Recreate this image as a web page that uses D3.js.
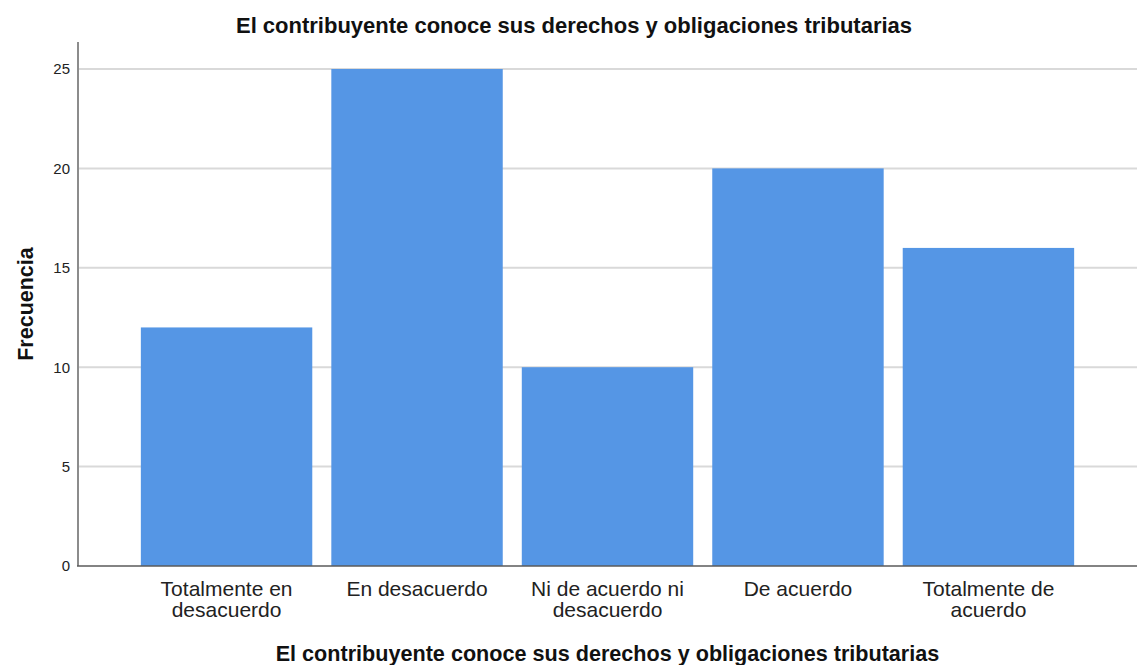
<!DOCTYPE html>
<html>
<head>
<meta charset="utf-8">
<script src="https://cdn.jsdelivr.net/npm/d3@7"></script>
<style>
  html, body { margin: 0; padding: 0; background: #fff; }
  svg { display: block; font-family: "Liberation Sans", Arial, sans-serif; }
</style>
</head>
<body>
<svg id="chart" width="1137" height="665"></svg>
<script>
const categories = ["Totalmente en desacuerdo", "En desacuerdo", "Ni de acuerdo ni desacuerdo", "De acuerdo", "Totalmente de acuerdo"];
const categoryLines = [["Totalmente en", "desacuerdo"], ["En desacuerdo"], ["Ni de acuerdo ni", "desacuerdo"], ["De acuerdo"], ["Totalmente de", "acuerdo"]];
const frequencies = [12, 25, 10, 20, 16];
const yTicks = [0, 5, 10, 15, 20, 25];
const title = "El contribuyente conoce sus derechos y obligaciones tributarias";
const xTitle = "El contribuyente conoce sus derechos y obligaciones tributarias";
const yTitle = "Frecuencia";

const W = 1137, H = 665;
const plot = { left: 78, right: 1137, top: 42, bottom: 566 };

const svg = d3.select("#chart");

const x = d3.scaleBand().domain(categories).range([plot.left, plot.right])
  .paddingInner(0.1).paddingOuter(0.33);
const y = d3.scaleLinear().domain([0, 25]).range([plot.bottom, 69]);

// gridlines
svg.append("g")
  .selectAll("line").data(yTicks.filter(d => d > 0)).join("line")
  .attr("x1", plot.left).attr("x2", plot.right)
  .attr("y1", d => y(d)).attr("y2", d => y(d))
  .attr("stroke", "#d9d9d9").attr("stroke-width", 2);

// bars
svg.append("g")
  .selectAll("rect").data(frequencies).join("rect")
  .attr("x", (d, i) => x(categories[i]))
  .attr("width", x.bandwidth())
  .attr("y", d => y(d))
  .attr("height", d => y(0) - y(d))
  .attr("fill", "#5596e5");

// y axis
const yAxis = svg.append("g")
  .attr("transform", `translate(${plot.left},0)`)
  .call(d3.axisLeft(y).tickValues(yTicks).tickSize(0).tickPadding(8));
yAxis.select(".domain").remove();
yAxis.selectAll("text").attr("font-size", 15).attr("fill", "#222")
  .attr("font-family", "'Liberation Sans', Arial, sans-serif");
svg.append("line")
  .attr("x1", plot.left).attr("x2", plot.left)
  .attr("y1", plot.top).attr("y2", plot.bottom)
  .attr("stroke", "#8c8c8c").attr("stroke-width", 2);

// baseline
svg.append("line")
  .attr("x1", plot.left - 1).attr("x2", plot.right)
  .attr("y1", y(0)).attr("y2", y(0))
  .attr("stroke", "#5a5a5a").attr("stroke-width", 1.5);

// x axis labels
const xAxis = svg.append("g")
  .attr("transform", `translate(0,${plot.bottom})`)
  .call(d3.axisBottom(x).tickSize(0).tickFormat(""));
xAxis.select(".domain").remove();
xAxis.selectAll(".tick").each(function(d) {
  const i = categories.indexOf(d);
  const t = d3.select(this).append("text")
    .attr("text-anchor", "middle")
    .attr("fill", "#222")
    .attr("font-size", 21)
    .attr("font-family", "'Liberation Sans', Arial, sans-serif");
  categoryLines[i].forEach((line, k) => {
    t.append("tspan").attr("x", 0).attr("y", 30 + k * 21).text(line);
  });
});

// titles
svg.append("text")
  .attr("x", 574).attr("y", 33)
  .attr("text-anchor", "middle")
  .attr("font-weight", "bold").attr("font-size", 22).attr("fill", "#111")
  .text(title);

svg.append("text")
  .attr("x", (plot.left + plot.right) / 2).attr("y", 661)
  .attr("text-anchor", "middle")
  .attr("font-weight", "bold").attr("font-size", 21.6).attr("fill", "#111")
  .text(xTitle);

svg.append("text")
  .attr("transform", `translate(33,${(plot.top + plot.bottom) / 2}) rotate(-90)`)
  .attr("text-anchor", "middle")
  .attr("font-weight", "bold").attr("font-size", 21.5).attr("fill", "#111")
  .text(yTitle);
</script>
</body>
</html>
